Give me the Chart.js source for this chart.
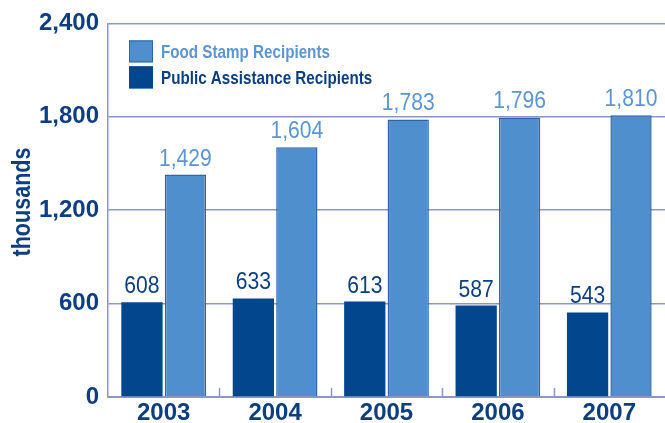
<!DOCTYPE html>
<html lang="en">
<head>
<meta charset="utf-8">
<title>Food Stamp and Public Assistance Recipients, 2003–2007</title>
<script src="https://cdn.jsdelivr.net/npm/chart.js@4.4.1/dist/chart.umd.min.js"></script>
<style>
  html, body { margin: 0; padding: 0; background: #ffffff; }
  #wrap { position: relative; width: 665px; height: 423px; }
</style>
</head>
<body>
<div id="wrap"><canvas id="barChart" width="665" height="423"></canvas></div>
<script>
/* ── Data ────────────────────────────────────────────────────────────────── */
const YEARS             = ['2003', '2004', '2005', '2006', '2007'];
const PUBLIC_ASSISTANCE = [608, 633, 613, 587, 543];
const FOOD_STAMPS       = [1429, 1604, 1783, 1796, 1810];
const Y_TICKS           = [0, 600, 1200, 1800, 2400];
const Y_TITLE           = 'thousands';

/* ── Style ───────────────────────────────────────────────────────────────── */
const NAVY       = '#0b3f82';
const DARK_BAR   = '#02468e';
const LIGHT_BAR  = '#4f8fce';
const LIGHT_EDGE = '#2d66a8';
const LIGHT_TEXT = '#5b96d2';
const RULE       = '#8d94c8';

const FONT = "'Liberation Sans', Arial, sans-serif";

const num = v => v.toLocaleString('en-US');

/** Draw text squeezed horizontally (condensed face look) */
function narrowText(ctx, text, x, y, squeeze) {
  ctx.save();
  ctx.translate(x, y);
  ctx.scale(squeeze, 1);
  ctx.fillText(text, 0, 0);
  ctx.restore();
}

/* ── Plugins ─────────────────────────────────────────────────────────────── */

/** Short upward ticks on the x axis between the year groups */
const innerTicks = {
  id: 'innerTicks',
  beforeDatasetsDraw(chart) {
    const { ctx, chartArea, scales: { x } } = chart;
    ctx.save();
    ctx.strokeStyle = RULE;
    ctx.lineWidth = 1.5;
    for (let i = 0; i < YEARS.length - 1; i++) {
      const px = Math.round((x.getPixelForValue(i) + x.getPixelForValue(i + 1)) / 2) + 0.5;
      ctx.beginPath();
      ctx.moveTo(px, chartArea.bottom);
      ctx.lineTo(px, chartArea.bottom - 9);
      ctx.stroke();
    }
    ctx.restore();
  }
};

/** Value labels above each bar */
const valueLabels = {
  id: 'valueLabels',
  afterDatasetsDraw(chart) {
    const { ctx } = chart;
    ctx.save();
    ctx.font = `24px ${FONT}`;
    ctx.textAlign = 'center';
    ctx.textBaseline = 'alphabetic';
    chart.data.datasets.forEach((ds, di) => {
      ctx.fillStyle = ds.labelColor;
      chart.getDatasetMeta(di).data.forEach((bar, i) => {
        narrowText(ctx, num(ds.data[i]), bar.x, bar.y - 9, 0.88);
      });
    });
    ctx.restore();
  }
};

/** Legend boxes inside the plot, light series listed first */
const insideLegend = {
  id: 'insideLegend',
  afterDraw(chart) {
    const { ctx, chartArea } = chart;
    const left = chartArea.left + 21;
    let top = chartArea.top + 17;
    ctx.save();
    ctx.font = `bold 19px ${FONT}`;
    ctx.textAlign = 'left';
    ctx.textBaseline = 'middle';
    [...chart.data.datasets].reverse().forEach(ds => {
      ctx.fillStyle = ds.backgroundColor;
      ctx.fillRect(left, top, 24, 22);
      ctx.strokeStyle = ds.borderColor;
      ctx.lineWidth = 1;
      ctx.strokeRect(left + 0.5, top + 0.5, 23, 21);
      ctx.fillStyle = ds.labelColor;
      narrowText(ctx, ds.label, left + 32, top + 12, 0.8);
      top += 26;
    });
    ctx.restore();
  }
};

/** Rotated y axis title */
const yTitle = {
  id: 'yTitle',
  afterDraw(chart) {
    const { ctx } = chart;
    ctx.save();
    ctx.translate(23, 202);
    ctx.rotate(-Math.PI / 2);
    ctx.font = `bold 26px ${FONT}`;
    ctx.fillStyle = NAVY;
    ctx.textAlign = 'center';
    ctx.textBaseline = 'middle';
    narrowText(ctx, Y_TITLE, 0, 0, 0.83);
    ctx.restore();
  }
};

/* ── Chart ───────────────────────────────────────────────────────────────── */
const chart = new Chart(document.getElementById('barChart').getContext('2d'), {
  type: 'bar',
  data: {
    labels: YEARS,
    datasets: [
      {
        label: 'Public Assistance Recipients',
        data: PUBLIC_ASSISTANCE,
        backgroundColor: DARK_BAR,
        borderColor: DARK_BAR,
        borderWidth: 0,
        labelColor: NAVY,
      },
      {
        label: 'Food Stamp Recipients',
        data: FOOD_STAMPS,
        backgroundColor: LIGHT_BAR,
        borderColor: LIGHT_EDGE,
        borderWidth: 1.5,
        labelColor: LIGHT_TEXT,
      }
    ]
  },
  options: {
    responsive: false,
    animation: false,
    layout: { padding: { top: 23, right: 0, left: 0, bottom: 0 } },
    categoryPercentage: 0.78,
    barPercentage: 0.95,
    plugins: {
      legend: { display: false },
      tooltip: { enabled: false }
    },
    scales: {
      x: {
        afterFit: scale => { scale.height = 26; },
        grid: { display: false, drawTicks: false },
        border: { color: RULE, width: 2 },
        ticks: {
          color: NAVY,
          padding: 2,
          font: { family: FONT, size: 24, weight: 'bold' }
        }
      },
      y: {
        min: 0,
        max: 2400,
        afterFit: scale => { scale.width = 108; },
        afterBuildTicks: scale => { scale.ticks = Y_TICKS.map(v => ({ value: v })); },
        grid: { color: RULE, lineWidth: 1.5, drawTicks: false },
        border: { color: RULE, width: 1.5 },
        ticks: {
          color: NAVY,
          padding: 9,
          font: { family: FONT, size: 24, weight: 'bold' },
          callback: v => num(v)
        }
      }
    }
  },
  plugins: [innerTicks, valueLabels, insideLegend, yTitle]
});
</script>
</body>
</html>
